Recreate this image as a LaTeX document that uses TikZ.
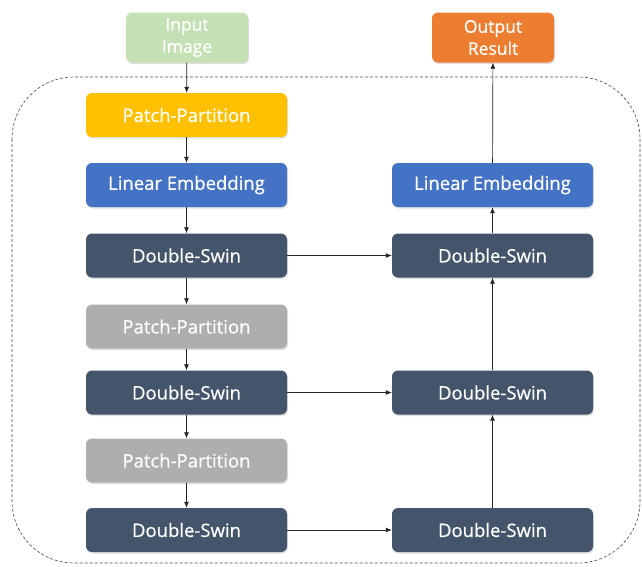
\documentclass[tikz,border=0pt]{standalone}
\usepackage{fontspec}
\setmainfont{Open Sans}
\newfontfamily\boxfont{Open Sans}[FakeBold=0.6]
\usetikzlibrary{arrows.meta,shadows}
\definecolor{ingreen}{HTML}{C5E0B4}
\definecolor{ppyellow}{HTML}{FFC000}
\definecolor{leblue}{HTML}{4472C4}
\definecolor{dsgray}{HTML}{44546A}
\definecolor{ppgray}{HTML}{AEAEAE}
\definecolor{outorange}{HTML}{ED7D31}
\begin{document}
\begin{tikzpicture}[x=1pt, y=-1pt,
	blk/.style={rectangle, rounded corners=6pt, minimum width=201pt, minimum height=44pt, text=white, font=\boxfont\fontsize{18.5}{21}\selectfont, inner sep=0pt, drop shadow={opacity=0.25, shadow xshift=1pt, shadow yshift=-1.5pt}},
	endblk/.style={blk, minimum width=122pt, minimum height=50pt, align=center, font=\boxfont\fontsize{17.5}{22}\selectfont},
	arr/.style={-{Latex[length=6pt, width=5pt]}, line width=0.7pt, draw=black!85}]
		\useasboundingbox (0,0) rectangle (642,566);
		\fill[white] (0,0) rectangle (642,566);
		
		\draw[dashed, dash pattern=on 3pt off 2pt, line width=0.6pt, draw=black!70, rounded corners=62pt] (12,77) rectangle (640,563);
		
		\node[endblk, fill=ingreen] (in) at (187,37.5) {Input\\Image};
		\node[endblk, fill=outorange] (out) at (493,37.5) {Output\\Result};
		
		\node[blk, fill=ppyellow] (pp1) at (186.5,115) {Patch-Partition};
		\node[blk, fill=leblue] (le1) at (186.5,185) {Linear Embedding};
		\node[blk, fill=dsgray] (ds1) at (186.5,255.5) {Double-Swin};
		\node[blk, fill=ppgray] (pp2) at (186.5,326.5) {Patch-Partition};
		\node[blk, fill=dsgray] (ds2) at (186.5,392.5) {Double-Swin};
		\node[blk, fill=ppgray] (pp3) at (186.5,460.5) {Patch-Partition};
		\node[blk, fill=dsgray] (ds3) at (186.5,530) {Double-Swin};
		
		\node[blk, fill=leblue] (le2) at (492.5,185) {Linear Embedding};
		\node[blk, fill=dsgray] (ds4) at (492.5,255.5) {Double-Swin};
		\node[blk, fill=dsgray] (ds5) at (492.5,392.5) {Double-Swin};
		\node[blk, fill=dsgray] (ds6) at (492.5,530) {Double-Swin};
		
		% left column, top to bottom
		\draw[arr] (in) -- (pp1);
		\draw[arr] (pp1) -- (le1);
		\draw[arr] (le1) -- (ds1);
		\draw[arr] (ds1) -- (pp2);
		\draw[arr] (pp2) -- (ds2);
		\draw[arr] (ds2) -- (pp3);
		\draw[arr] (pp3) -- (ds3);
		
		% skip links
		\draw[arr] (ds1) -- (ds4);
		\draw[arr] (ds2) -- (ds5);
		\draw[arr] (ds3) -- (ds6);
		
		% right column, bottom to top
		\draw[arr] (ds6) -- (ds5);
		\draw[arr] (ds5) -- (ds4);
		\draw[arr] (ds4) -- (le2);
		\draw[arr] (le2) -- (out);
		
	\end{tikzpicture}
\end{document}
